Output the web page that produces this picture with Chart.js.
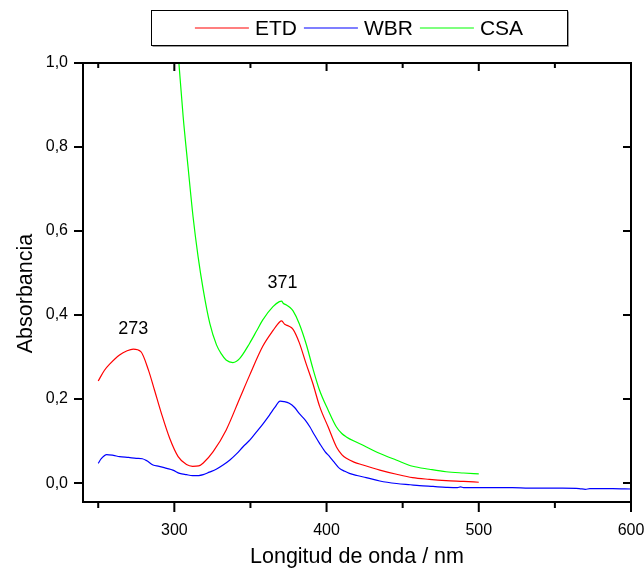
<!DOCTYPE html>
<html>
<head>
<meta charset="utf-8">
<script src="https://cdn.jsdelivr.net/npm/chart.js@4.4.0/dist/chart.umd.min.js"></script>
<style>
    body { margin: 0; background: #fff; }
</style>
</head>
<body>
<canvas id="myChart" width="644" height="573"></canvas>
<script>
// ETD (red)
var etdX = [250, 254, 258, 264, 269, 273, 278, 283, 287, 291.5, 297, 302.5, 308, 312, 316, 319, 325.5, 334, 343, 349.5, 358, 365, 369, 370.5, 372.5, 375, 378, 382, 386.5, 391, 395.5, 401, 406.5, 410, 413, 418, 424, 435, 446, 456.5, 467.5, 478.5, 490, 500];
var etdY = [0.243, 0.268, 0.285, 0.305, 0.315, 0.319, 0.313, 0.269, 0.221, 0.166, 0.106, 0.063, 0.044, 0.040, 0.041, 0.048, 0.075, 0.126, 0.202, 0.257, 0.325, 0.364, 0.383, 0.386, 0.378, 0.374, 0.366, 0.335, 0.285, 0.237, 0.182, 0.134, 0.086, 0.068, 0.059, 0.050, 0.043, 0.031, 0.021, 0.013, 0.009, 0.006, 0.004, 0.002];

// WBR (blue)
var wbrX = [250, 252, 255.5, 260, 264, 270, 275, 279, 282, 286, 290, 295, 299, 303.5, 308, 312, 316, 319, 323, 327.5, 332, 336.5, 341, 345, 350, 354, 358, 362.5, 366, 369.5, 372, 375.5, 379, 382, 386, 389, 392, 395.5, 399, 402, 405, 408.5, 412, 415, 420, 426, 435, 446, 455, 461, 470, 478.5, 486, 488, 490, 500, 511, 522, 533, 544, 555, 566, 570, 573, 578, 588, 600];
var wbrY = [0.047, 0.058, 0.068, 0.066, 0.063, 0.061, 0.059, 0.058, 0.053, 0.043, 0.040, 0.035, 0.031, 0.023, 0.020, 0.018, 0.018, 0.020, 0.026, 0.033, 0.043, 0.055, 0.070, 0.086, 0.104, 0.122, 0.140, 0.162, 0.180, 0.195, 0.194, 0.190, 0.180, 0.166, 0.150, 0.134, 0.115, 0.094, 0.075, 0.063, 0.050, 0.035, 0.028, 0.023, 0.018, 0.013, 0.005, -0.001, -0.004, -0.006, -0.008, -0.010, -0.011, -0.009, -0.011, -0.011, -0.011, -0.011, -0.012, -0.012, -0.012, -0.013, -0.015, -0.013, -0.013, -0.013, -0.014];

// CSA (green)
var csaX = [301.5, 303, 305.8, 309, 312.3, 315.6, 319, 323.3, 327.7, 331, 334, 338.5, 343, 349.5, 354, 358, 364.8, 369, 370.5, 371.5, 373.6, 376, 378, 382, 386.7, 391, 395.4, 401, 406.4, 410, 413, 418, 424, 434.7, 445.7, 456.6, 467.5, 478.5, 490, 500];
var csaY = [1.07, 1.0, 0.872, 0.753, 0.634, 0.539, 0.460, 0.380, 0.329, 0.307, 0.293, 0.287, 0.297, 0.333, 0.362, 0.388, 0.420, 0.432, 0.433, 0.428, 0.424, 0.418, 0.410, 0.380, 0.330, 0.273, 0.221, 0.174, 0.134, 0.118, 0.110, 0.100, 0.090, 0.071, 0.055, 0.040, 0.033, 0.027, 0.024, 0.022];

// peak labels
var peakLabels = ['273', '371'];
var peakX = [273, 371];
var peakY = [0.356, 0.464];

var seriesNames = ['ETD', 'WBR', 'CSA'];

function toPoints(xs, ys) {
    var pts = [];
    for (var i = 0; i < xs.length; i++) {
        pts.push({ x: xs[i], y: ys[i] });
    }
    return pts;
}

var FONT = '"Liberation Sans", Arial, sans-serif';
Chart.defaults.font.family = FONT;
Chart.defaults.color = '#000';

var framePlugin = {
    id: 'frame',
    afterDraw: function (chart) {
        var ctx = chart.ctx;
        var a = chart.chartArea;
        var xs = chart.scales.x;
        var ys = chart.scales.y;
        ctx.save();

        // frame and ticks
        ctx.strokeStyle = '#000';
        ctx.lineWidth = 2;
        ctx.strokeRect(a.left, a.top, a.right - a.left, a.bottom - a.top);
        ctx.beginPath();
        xs.ticks.forEach(function (t) {
            var px = xs.getPixelForValue(t.value);
            var major = Math.round(t.value) % 100 === 0;
            ctx.moveTo(px, a.bottom);
            ctx.lineTo(px, a.bottom + (major ? 10 : 6));
            ctx.moveTo(px, a.top);
            ctx.lineTo(px, a.top + (major ? 8 : 5));
        });
        ys.ticks.forEach(function (t) {
            var py = ys.getPixelForValue(t.value);
            ctx.moveTo(a.left - 9, py);
            ctx.lineTo(a.left, py);
            ctx.moveTo(a.right - 8, py);
            ctx.lineTo(a.right, py);
        });
        ctx.stroke();

        // peak labels
        ctx.fillStyle = '#000';
        ctx.font = '18px ' + FONT;
        ctx.textAlign = 'center';
        ctx.textBaseline = 'alphabetic';
        for (var i = 0; i < peakLabels.length; i++) {
            ctx.fillText(peakLabels[i], xs.getPixelForValue(peakX[i]), ys.getPixelForValue(peakY[i]));
        }

        // axis titles
        ctx.font = '21.5px ' + FONT;
        ctx.fillText('Longitud de onda / nm', (a.left + a.right) / 2, 563);
        ctx.save();
        ctx.translate(32, (a.top + a.bottom) / 2 + 11);
        ctx.rotate(-Math.PI / 2);
        ctx.fillText('Absorbancia', 0, 0);
        ctx.restore();

        // legend box
        ctx.font = '21px ' + FONT;
        var cx = (a.left + a.right) / 2 + 2;
        var boxW = 416, boxT = 10.5, boxH = 35;
        var boxL = Math.round(cx - boxW / 2) + 0.5;
        ctx.lineWidth = 1;
        ctx.strokeStyle = '#999';
        ctx.beginPath();
        ctx.moveTo(boxL + boxW + 1, boxT + 1);
        ctx.lineTo(boxL + boxW + 1, boxT + boxH + 1);
        ctx.lineTo(boxL + 1, boxT + boxH + 1);
        ctx.stroke();
        ctx.strokeStyle = '#000';
        ctx.strokeRect(boxL, boxT, boxW, boxH);

        var lineLen = 54, gapText = 6, gapItem = 7;
        var total = 0;
        chart.data.datasets.forEach(function (ds, k) {
            total += lineLen + gapText + ctx.measureText(ds.label).width;
            if (k > 0) total += gapItem;
        });
        var x = cx - total / 2;
        var ly = 28;
        ctx.textAlign = 'left';
        chart.data.datasets.forEach(function (ds) {
            ctx.strokeStyle = ds.legendColor;
            ctx.lineWidth = 2;
            ctx.beginPath();
            ctx.moveTo(x, ly);
            ctx.lineTo(x + lineLen, ly);
            ctx.stroke();
            x += lineLen + gapText;
            ctx.fillStyle = '#000';
            ctx.fillText(ds.label, x, 35);
            x += ctx.measureText(ds.label).width + gapItem;
        });

        ctx.restore();
    }
};

var ctx = document.getElementById('myChart').getContext('2d');
var myChart = new Chart(ctx, {
    type: 'line',
    data: {
        datasets: [{
            label: seriesNames[0],
            data: toPoints(etdX, etdY),
            borderColor: '#ff0000',
            legendColor: 'rgba(255, 0, 0, 0.5)'
        }, {
            label: seriesNames[1],
            data: toPoints(wbrX, wbrY),
            borderColor: '#0000ff',
            legendColor: 'rgba(0, 0, 255, 0.5)'
        }, {
            label: seriesNames[2],
            data: toPoints(csaX, csaY),
            borderColor: '#00ff00',
            legendColor: 'rgba(0, 255, 0, 0.5)'
        }]
    },
    options: {
        responsive: false,
        animation: false,
        events: [],
        datasets: {
            line: {
                borderWidth: 1.2,
                pointRadius: 0,
                fill: false,
                cubicInterpolationMode: 'monotone'
            }
        },
        layout: {
            padding: { top: 63, right: 13, left: 0, bottom: 0 }
        },
        plugins: {
            legend: { display: false },
            tooltip: { enabled: false }
        },
        scales: {
            x: {
                type: 'linear',
                min: 240,
                max: 600,
                grid: { display: false, drawTicks: false },
                border: { display: false },
                ticks: {
                    stepSize: 50,
                    includeBounds: false,
                    maxRotation: 0,
                    autoSkip: false,
                    padding: 19,
                    font: { size: 16 },
                    callback: function (value) {
                        return Math.round(value) % 100 === 0 ? String(value) : '';
                    }
                },
                afterFit: function (scale) {
                    scale.height = 71;
                    scale.paddingLeft = 0;
                    scale.paddingRight = 0;
                }
            },
            y: {
                min: -0.045,
                max: 1.0,
                grid: { display: false, drawTicks: false },
                border: { display: false },
                ticks: {
                    stepSize: 0.2,
                    includeBounds: false,
                    padding: 15,
                    font: { size: 16 },
                    callback: function (value) {
                        return Number(value).toFixed(1).replace('.', ',');
                    }
                },
                afterFit: function (scale) {
                    scale.width = 83;
                    scale.paddingTop = 0;
                    scale.paddingBottom = 0;
                }
            }
        }
    },
    plugins: [framePlugin]
});
</script>
</body>
</html>
